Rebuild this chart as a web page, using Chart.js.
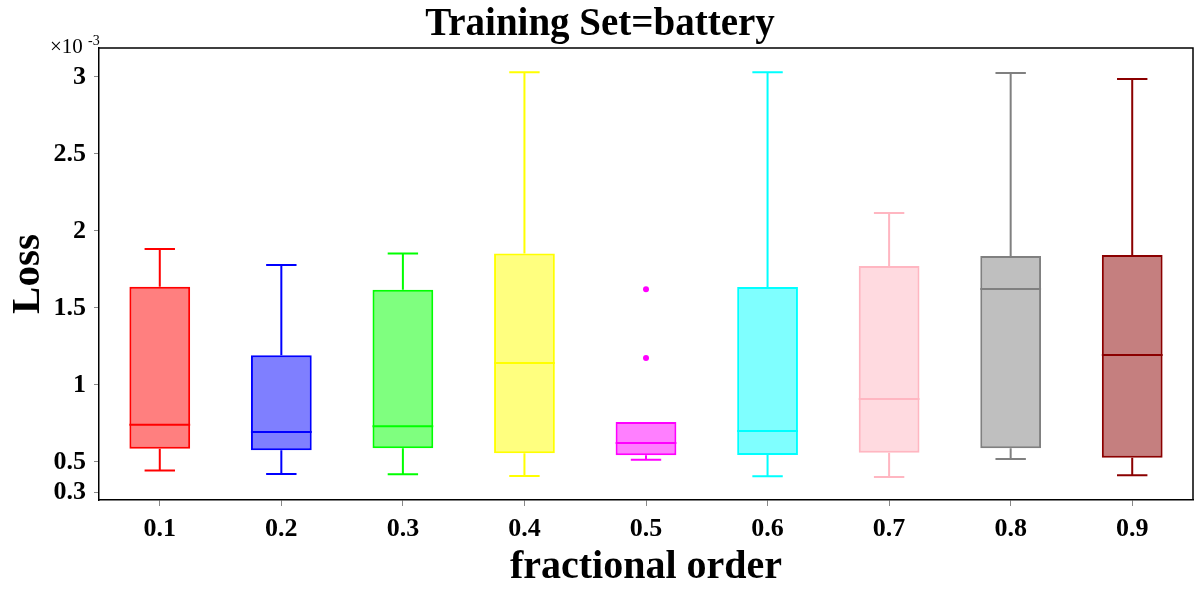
<!DOCTYPE html>
<html>
<head>
<meta charset="utf-8">
<script src="https://cdn.jsdelivr.net/npm/chart.js@4/dist/chart.umd.min.js"></script>
<style>
  html, body { margin: 0; padding: 0; background: #fff; }
  #wrap { width: 1200px; height: 600px; }
</style>
</head>
<body>
<div id="wrap"><canvas id="chart" width="1200" height="600"></canvas></div>
<script>
  'use strict';

  // カテゴリ（分数階）
  const orders = ['0.1', '0.2', '0.3', '0.4', '0.5', '0.6', '0.7', '0.8', '0.9'];

  // 箱ひげ図の値（×10^-3）
  const whiskerLow  = [0.444, 0.422, 0.420, 0.409, 0.515, 0.407, 0.403, 0.519, 0.414];
  const q1          = [0.586, 0.576, 0.589, 0.556, 0.543, 0.545, 0.560, 0.589, 0.528];
  const median      = [0.742, 0.695, 0.732, 1.143, 0.623, 0.701, 0.909, 1.623, 1.195];
  const q3          = [1.638, 1.193, 1.619, 1.853, 0.760, 1.636, 1.773, 1.838, 1.844];
  const whiskerHigh = [1.883, 1.779, 1.853, 3.030, 0.760, 3.030, 2.117, 3.026, 2.987];

  // 外れ値
  const outlierCat = ['0.5', '0.5'];
  const outlierVal = [1.621, 1.175];

  // y軸の目盛り
  const yTicks = [0.3, 0.5, 1, 1.5, 2, 2.5, 3];

  const lineColors = ['#ff0000', '#0000ff', '#00ff00', '#ffff00', '#ff00ff', '#00ffff', '#ffb6c1', '#808080', '#8b0000'];
  const fillColors = ['rgba(255,0,0,0.5)', 'rgba(0,0,255,0.5)', 'rgba(0,255,0,0.5)', 'rgba(255,255,0,0.5)',
                      'rgba(255,0,255,0.5)', 'rgba(0,255,255,0.5)', 'rgba(255,182,193,0.5)', 'rgba(128,128,128,0.5)',
                      'rgba(139,0,0,0.5)'];

  const serif = '"Liberation Serif", "DejaVu Serif", serif';

  // ひげ・中央値・枠・タイトルを描くプラグイン
  const boxPlugin = {
    id: 'boxExtras',
    afterDatasetsDraw: (chart) => {
      const ctx = chart.ctx;
      const xs = chart.scales.x;
      const ys = chart.scales.y;
      const meta = chart.getDatasetMeta(0);
      ctx.save();
      ctx.lineWidth = 2;
      orders.forEach((label, i) => {
        const cx = xs.getPixelForValue(i);
        const bar = meta.data[i];
        const half = bar.width / 2;
        const cap = half / 2;
        ctx.strokeStyle = lineColors[i];
        ctx.beginPath();
        // 中央値
        ctx.moveTo(cx - half, ys.getPixelForValue(median[i]));
        ctx.lineTo(cx + half, ys.getPixelForValue(median[i]));
        // 上ひげ（箱と同じ高さなら描かない）
        if (whiskerHigh[i] > q3[i]) {
          ctx.moveTo(cx, ys.getPixelForValue(q3[i]));
          ctx.lineTo(cx, ys.getPixelForValue(whiskerHigh[i]));
          ctx.moveTo(cx - cap, ys.getPixelForValue(whiskerHigh[i]));
          ctx.lineTo(cx + cap, ys.getPixelForValue(whiskerHigh[i]));
        }
        // 下ひげ
        ctx.moveTo(cx, ys.getPixelForValue(q1[i]));
        ctx.lineTo(cx, ys.getPixelForValue(whiskerLow[i]));
        ctx.moveTo(cx - cap, ys.getPixelForValue(whiskerLow[i]));
        ctx.lineTo(cx + cap, ys.getPixelForValue(whiskerLow[i]));
        ctx.stroke();
      });

      // 上と右の枠線
      const area = chart.chartArea;
      ctx.strokeStyle = '#000';
      ctx.lineWidth = 1.5;
      ctx.beginPath();
      ctx.moveTo(area.left, area.top);
      ctx.lineTo(area.right, area.top);
      ctx.lineTo(area.right, area.bottom);
      ctx.stroke();

      // タイトル
      ctx.fillStyle = '#000';
      ctx.textAlign = 'center';
      ctx.textBaseline = 'alphabetic';
      ctx.font = 'bold 39px ' + serif;
      ctx.fillText('Training Set=battery', 600, 35);

      // 指数表記
      ctx.textAlign = 'left';
      ctx.font = '21px ' + serif;
      ctx.fillText('\u00d710', 50, 53);
      ctx.font = '14px ' + serif;
      ctx.fillText('-3', 88, 45);
      ctx.restore();
    }
  };

  const chart = new Chart(document.getElementById('chart'), {
    type: 'bar',
    data: {
      labels: orders,
      datasets: [{
        data: orders.map((o, i) => [q1[i], q3[i]]),
        backgroundColor: fillColors,
        borderColor: lineColors,
        borderWidth: 2,
        borderSkipped: false,
        barPercentage: 0.5,
        categoryPercentage: 1.0
      }, {
        type: 'line',
        data: outlierCat.map((c, i) => ({ x: c, y: outlierVal[i] })),
        showLine: false,
        pointRadius: 3,
        pointBackgroundColor: '#ff00ff',
        pointBorderColor: '#ff00ff',
        pointBorderWidth: 0
      }]
    },
    options: {
      responsive: false,
      animation: false,
      layout: { padding: { top: 48, right: 7, left: 0, bottom: 0 } },
      plugins: {
        legend: { display: false },
        tooltip: { enabled: false },
        title: { display: false }
      },
      scales: {
        x: {
          offset: true,
          grid: { display: true, offset: false, drawOnChartArea: false, tickLength: 6, color: '#888', lineWidth: 1 },
          border: { display: true, color: '#000', width: 1.5 },
          ticks: { color: '#000', font: { family: serif, size: 26, weight: 'bold' }, padding: 8 },
          title: { display: true, text: 'fractional order', color: '#000',
                   font: { family: serif, size: 40, weight: 'bold' }, padding: { top: 0, bottom: 8 } },
          afterFit: (scale) => { scale.height = 100; }
        },
        y: {
          min: 0.253,
          max: 3.188,
          afterBuildTicks: (scale) => { scale.ticks = yTicks.map(v => ({ value: v })); },
          grid: { display: true, drawOnChartArea: false, tickLength: 5, color: '#888', lineWidth: 1 },
          border: { display: true, color: '#000', width: 1.5 },
          ticks: { color: '#000', font: { family: serif, size: 26, weight: 'bold' }, padding: 8,
                   callback: (v) => String(v) },
          title: { display: true, text: 'Loss', color: '#000',
                   font: { family: serif, size: 41, weight: 'bold' }, padding: { top: 4, bottom: 0 } },
          afterFit: (scale) => { scale.width = 99; }
        }
      }
    },
    plugins: [boxPlugin]
  });
</script>
</body>
</html>
